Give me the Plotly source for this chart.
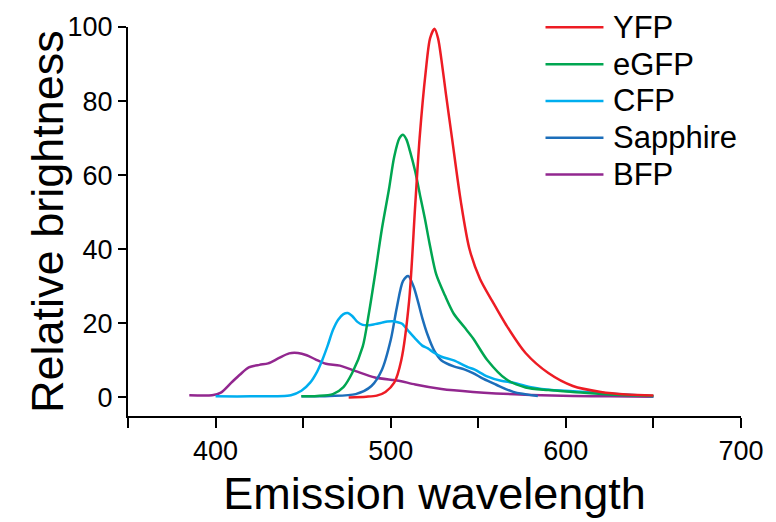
import plotly.graph_objects as go

# ---- data ----
series_names = ["YFP", "eGFP", "CFP", "Sapphire", "BFP"]
series_colors = ["#ED1C24", "#00A651", "#00AEEF", "#1C6EBA", "#92278F"]

yfp_x = [476, 486, 492, 497, 502, 506, 510.5, 514, 516.5, 520, 522.5, 525, 527, 529, 531.5,
         535, 540, 545, 551, 558, 566, 577, 590, 604, 620, 635, 650]
yfp_y = [0, 0.2, 0.5, 1.5, 4, 10, 26, 52, 70, 88, 97, 99.5, 97, 91, 82,
         70, 53, 40, 32, 26, 19.5, 12, 6.6, 3.1, 1.5, 0.8, 0.5]

egfp_x = [449, 458, 467, 473, 478, 484, 487.5, 491, 495, 499, 502, 505, 507, 509, 511, 514,
          517, 519.5, 522, 526, 531, 536, 542, 547, 555, 566, 577, 590, 604, 625, 650]
egfp_y = [0.3, 0.4, 0.9, 2.8, 6.6, 13.7, 22.6, 33, 45.6, 56.2, 65, 70, 70.9, 69.6, 66.5, 61,
          54, 48.3, 42, 33.2, 27.5, 22.6, 19, 16, 10.2, 4.9, 2.7, 2, 1.5, 0.8, 0.4]

cfp_x = [400, 420, 443, 449, 454, 458, 461, 464, 467, 470, 473, 475.5, 478, 481, 484, 487.5,
         491, 495, 498, 501, 504, 506.5, 510, 514, 518, 521, 525, 529, 536, 544, 548, 555,
         563, 570, 581, 592, 604, 620, 650]
cfp_y = [0.3, 0.3, 0.6, 1.8, 4, 7, 10.2, 14, 18.2, 21, 22.5, 22.8, 22, 20.4, 19.6, 19.5,
         19.8, 20.2, 20.5, 20.6, 20.3, 19.9, 18, 15.9, 14, 13.3, 12, 11, 10, 8.2, 7.5, 5.7,
         4.5, 4, 2.7, 2, 1.7, 1.2, 0.3]

sapphire_x = [449, 465, 480, 489, 495, 500, 503.5, 507, 510, 513, 515.5, 518, 521, 525, 529,
              536, 542, 547, 553, 560, 570, 584]
sapphire_y = [0.3, 0.4, 0.9, 3.1, 7.5, 15.5, 24.3, 31.4, 32.8, 30, 26, 21.5, 17, 12.5, 10,
              8.4, 7.6, 6.6, 5, 3.5, 1.5, 0.4]

bfp_x = [385, 398, 403, 409, 414, 419, 425, 430, 436, 442, 447, 452, 457, 463, 471, 480, 491,
         502, 506, 514, 529, 547, 560, 580, 604, 625, 650]
bfp_y = [0.6, 0.6, 1.3, 4, 6.2, 8.1, 8.8, 9.2, 10.6, 11.9, 12, 11.4, 10.3, 9.1, 8.6, 7.1, 5.4,
         4.7, 4.4, 3.5, 2.3, 1.5, 1.1, 0.7, 0.4, 0.3, 0.2]

x_tick_vals = [350, 400, 450, 500, 550, 600, 650, 700]
x_tick_text = ["", "400", "", "500", "", "600", "", "700"]
y_tick_vals = [0, 20, 40, 60, 80, 100]

x_title = "Emission wavelength"
y_title = "Relative brightness"

series_x = [yfp_x, egfp_x, cfp_x, sapphire_x, bfp_x]
series_y = [yfp_y, egfp_y, cfp_y, sapphire_y, bfp_y]

FONT = "Liberation Sans, Arial, Helvetica, sans-serif"

fig = go.Figure()
# draw BFP first so YFP ends on top
for name, color, xs, ys in reversed(list(zip(series_names, series_colors, series_x, series_y))):
    fig.add_trace(go.Scatter(
        x=xs, y=ys, name=name, mode="lines",
        line=dict(color=color, width=2.5, shape="spline", smoothing=0.8),
        showlegend=False, hoverinfo="skip",
    ))

W, H = 776, 522
L, R, T, B = 128, 24, 22, 105
pw, ph = W - L - R, H - T - B

# manual legend (long line samples like the reference)
row0, row_step = 22.3, 37.4
for i, (name, color) in enumerate(zip(series_names, series_colors)):
    py = row0 + i * row_step
    yp = (H - B - py) / ph
    x0p = (553 - L) / pw
    x1p = (612 - L) / pw
    fig.add_shape(type="line", xref="paper", yref="paper", x0=x0p, x1=x1p, y0=yp, y1=yp,
                  line=dict(color=color, width=2.5))
    fig.add_annotation(xref="paper", yref="paper", x=(620 - L) / pw, y=yp, text=name,
                       showarrow=False, xanchor="left", yanchor="middle",
                       font=dict(family=FONT, size=31, color="black"))

# y-axis title as rotated text, placed like the reference
fig.add_annotation(xref="paper", yref="paper", x=(46 - L) / pw, y=0.5, text=y_title,
                   showarrow=False, textangle=-90, xanchor="center", yanchor="middle",
                   font=dict(family=FONT, size=45, color="black"))

fig.update_layout(
    width=W, height=H,
    margin=dict(l=L, r=R, t=T, b=B),
    paper_bgcolor="white", plot_bgcolor="white",
    font=dict(family=FONT, color="black"),
    showlegend=False,
)
fig.update_xaxes(
    range=[350, 700], tickmode="array", tickvals=x_tick_vals, ticktext=x_tick_text,
    showgrid=False, zeroline=False, showline=True, linecolor="black", linewidth=2,
    ticks="outside", ticklen=10, tickwidth=2, tickcolor="black",
    tickfont=dict(family=FONT, size=27, color="black"),
    title=dict(text=x_title, font=dict(family=FONT, size=45, color="black"), standoff=12),
)
fig.update_yaxes(
    range=[-5, 100], tickmode="array", tickvals=y_tick_vals,
    showgrid=False, zeroline=False, showline=True, linecolor="black", linewidth=2,
    ticks="outside", ticklen=8, tickwidth=2, tickcolor="black",
    tickfont=dict(family=FONT, size=27, color="black"),
)

fig.write_html(
    "out.html",
    config={"displayModeBar": False},
    post_script="document.body.style.margin='0';document.body.style.overflow='hidden';",
)
